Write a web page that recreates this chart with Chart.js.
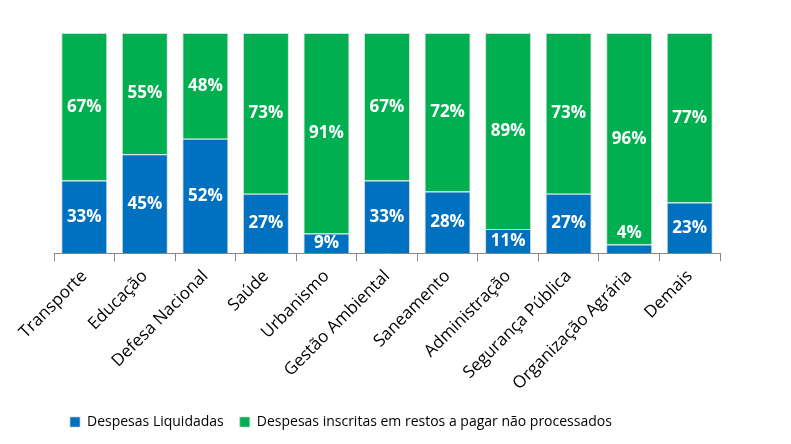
<!DOCTYPE html>
<html>
<head>
<meta charset="utf-8">
<script src="https://cdn.jsdelivr.net/npm/chart.js@4.4.0/dist/chart.umd.min.js"></script>
<style>
  html, body { margin: 0; padding: 0; background: #fff; }
  #wrap { width: 791px; height: 444px; }
</style>
</head>
<body>
<div id="wrap"><canvas id="c" width="791" height="444"></canvas></div>
<script>
const categories = ['Transporte', 'Educação', 'Defesa Nacional', 'Saúde', 'Urbanismo', 'Gestão Ambiental',
    'Saneamento', 'Administração', 'Segurança Pública', 'Organização Agrária', 'Demais'];
const liquidadas = [33, 45, 52, 27, 9, 33, 28, 11, 27, 4, 23];
const restosAPagar = [67, 55, 48, 73, 91, 67, 72, 89, 73, 96, 77];

// white percentage labels inside each segment (small ones go just above)
const segLabels = {
    id: 'segLabels',
    afterDatasetsDraw(chart) {
        const ctx = chart.ctx;
        ctx.save();
        ctx.font = 'bold 17px "Open Sans"';
        ctx.fillStyle = '#fff';
        ctx.textAlign = 'center';
        ctx.textBaseline = 'middle';
        chart.data.datasets.forEach((ds, i) => {
            chart.getDatasetMeta(i).data.forEach((bar, j) => {
                const h = bar.base - bar.y;
                const y = h < 15 ? bar.y - 11 : bar.y + h / 2;
                ctx.fillText(ds.data[j] + '%', bar.x, y);
            });
        });
        ctx.restore();
    }
};

new Chart(document.getElementById('c'), {
    type: 'bar',
    data: {
        labels: categories,
        datasets: [
            {
                label: 'Despesas Liquidadas',
                data: liquidadas,
                backgroundColor: '#0070C0',
                borderColor: 'rgba(190,200,210,0.7)',
                borderWidth: 1,
                barPercentage: 0.76,
                categoryPercentage: 1,
            },
            {
                label: 'Despesas inscritas em restos a pagar não processados',
                data: restosAPagar,
                backgroundColor: '#00B050',
                borderColor: 'rgba(190,210,200,0.7)',
                borderWidth: 1,
                barPercentage: 0.76,
                categoryPercentage: 1,
            },
        ],
    },
    options: {
        responsive: false,
        animation: false,
        layout: { padding: { left: 54, right: 71, top: 33, bottom: 5 } },
        plugins: {
            legend: {
                position: 'bottom',
                align: 'start',
                labels: {
                    boxWidth: 10, boxHeight: 10, padding: 16,
                    color: '#000', font: { family: 'Open Sans', size: 14 },
                },
            },
            tooltip: { enabled: false },
        },
        scales: {
            x: {
                stacked: true,
                grid: { display: true, drawOnChartArea: false, offset: true, tickLength: 8, color: '#888' },
                border: { color: '#888' },
                ticks: { color: '#000', font: { family: 'Open Sans', size: 17 }, minRotation: 45, maxRotation: 45, padding: 5 },
            },
            y: {
                stacked: true,
                display: false,
                min: 0,
                max: 100,
            },
        },
    },
    plugins: [segLabels],
});
</script>
</body>
</html>
